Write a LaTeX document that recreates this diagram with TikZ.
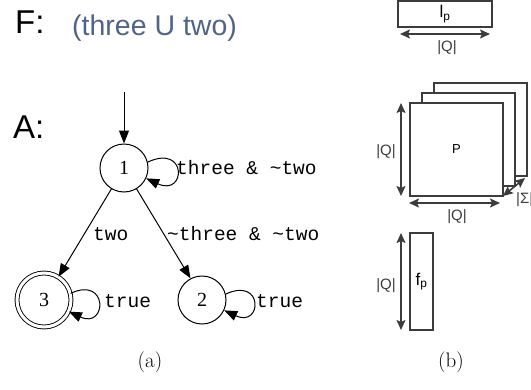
\documentclass[tikz,border=0pt]{standalone}
\usepackage{fontspec}
\usetikzlibrary{arrows.meta}
\newfontfamily\arialf{Liberation Sans}
\newfontfamily\timesf{Liberation Serif}
\newfontfamily\courf{Liberation Mono}
\definecolor{ftext}{RGB}{80,100,135}
\definecolor{boxgray}{RGB}{60,60,60}
\tikzset{
  state/.style={draw, circle, line width=1pt, inner sep=0pt, minimum size=48pt, font=\timesf\fontsize{20}{22}\selectfont},
  accstate/.style={state, minimum size=54pt, double, double distance=3pt, line width=0.9pt},
  gedge/.style={line width=1pt, -{Triangle[length=13pt,width=10pt]}},
  glabel/.style={anchor=west, inner sep=0pt, font=\courf\fontsize{19.5}{22}\selectfont},
  bigl/.style={anchor=base west, inner sep=0pt, font=\arialf\fontsize{33}{36}\selectfont},
  mbox/.style={draw=boxgray, line width=1.6pt, fill=white, inner sep=0pt},
  dimarrow/.style={draw=boxgray, line width=1.6pt, {Stealth[length=10pt,width=9pt,inset=2pt]}-{Stealth[length=10pt,width=9pt,inset=2pt]}},
  dimlabel/.style={inner sep=0pt, font=\arialf\fontsize{15}{17}\selectfont, text=boxgray},
  boxlabel/.style={font=\arialf\fontsize{17}{19}\selectfont, text=black},
  captext/.style={inner sep=0pt, font=\fontsize{21}{25}\selectfont}
}
\begin{document}
\begin{tikzpicture}[x=1pt,y=-1pt]
\useasboundingbox (0,0) rectangle (531,389);
% ---- (a) ----
\node[bigl] (F) at (15,33) {F:};
\node[anchor=base west, inner sep=0pt, text=ftext, font=\arialf\fontsize{28.5}{31}\selectfont] (formula) at (72,35) {(three U two)};
\node[bigl] (A) at (13,138) {A:};
\node[state] (s1) at (124,168) {1};
\node[accstate] (s3) at (44,300) {3};
\node[state] (s2) at (202,300) {2};
\coordinate (init) at (124,92);
\draw[gedge] (init) -- (s1);
\draw[gedge] (s1.14) .. controls +(-25:44) and +(25:44) .. (s1.-25);
\node[glabel] (l1) at (176,168) {three \& \textasciitilde two};
\draw[gedge] (s1) -- (s3.58);
\node[glabel] (l13) at (93,234) {two};
\draw[gedge] (s1) -- (s2.118);
\node[glabel] (l12) at (167,234) {\textasciitilde three \& \textasciitilde two};
\draw[gedge] (s3.14) .. controls +(-25:42) and +(25:42) .. (s3.-25);
\node[glabel] (l3) at (104,301) {true};
\draw[gedge] (s2.14) .. controls +(-25:42) and +(25:42) .. (s2.-25);
\node[glabel] (l2) at (256,301) {true};
\node[captext] (capa) at (150,362) {(a)};
% ---- (b) ----
\node[mbox, minimum width=94pt, minimum height=26pt, boxlabel] (lp) at (445,14) {l\textsubscript{p}};
\coordinate (lpa) at (400,34);
\coordinate (lpb) at (490,34);
\draw[dimarrow] (lpa) -- (lpb);
\node[dimlabel] (q1) at (447,48) {|Q|};
\node[mbox, minimum width=93pt, minimum height=93pt] (Pback) at (480.5,129.5) {};
\node[mbox, minimum width=93pt, minimum height=93pt] (Pmid) at (468.5,139.5) {};
\node[mbox, minimum width=93pt, minimum height=93pt, font=\arialf\fontsize{13}{15}\selectfont] (P) at (456.5,149.5) {P};
\coordinate (pva) at (401,103);
\coordinate (pvb) at (401,196);
\draw[dimarrow] (pva) -- (pvb);
\node[dimlabel] (q2) at (386,152) {|Q|};
\coordinate (pha) at (409,203);
\coordinate (phb) at (500,203);
\draw[dimarrow] (pha) -- (phb);
\node[dimlabel] (q3) at (457,217) {|Q|};
\coordinate (pda) at (503,196);
\coordinate (pdb) at (525,178);
\draw[dimarrow] (pda) -- (pdb);
\node[dimlabel, anchor=west] (sig) at (516,200) {|Σ|};
\node[mbox, minimum width=23pt, minimum height=97pt, boxlabel] (fp) at (421.5,281.5) {f\textsubscript{p}};
\coordinate (fva) at (401,233);
\coordinate (fvb) at (401,330);
\draw[dimarrow] (fva) -- (fvb);
\node[dimlabel] (q4) at (386,286) {|Q|};
\node[captext] (capb) at (451,362) {(b)};
\end{tikzpicture}
\end{document}
